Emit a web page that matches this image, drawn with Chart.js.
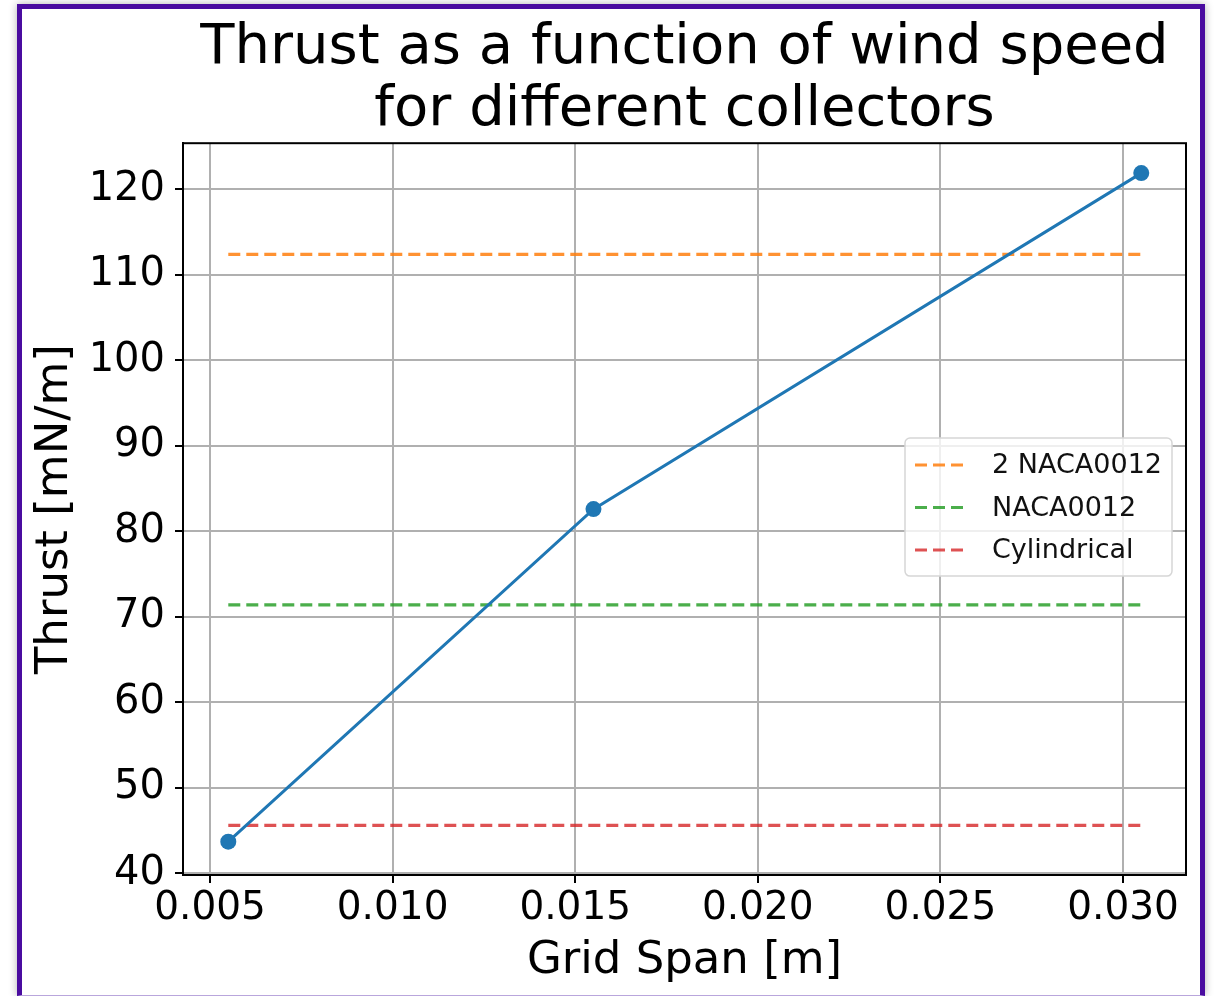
<!DOCTYPE html>
<html>
<head>
<meta charset="utf-8">
<script src="https://cdn.jsdelivr.net/npm/chart.js@4"></script>
<style>
  html, body { margin: 0; padding: 0; background: #fff; }
  #wrap { position: relative; width: 1217px; height: 996px; overflow: hidden; }
  #c { position: absolute; left: 0; top: 0; }
  #frame {
    position: absolute; left: 17px; top: 4px; width: 1188px; height: 992px;
    box-sizing: border-box;
    border: 5px solid #4a0ca0; border-bottom: 1px solid #b9a6dc;
    box-shadow: 0 0 8px rgba(0,0,0,0.3);
    pointer-events: none;
  }
</style>
</head>
<body>
<div id="wrap">
  <canvas id="c" width="1217" height="996"></canvas>
  <div id="frame"></div>
</div>
<script>
// data
var gridSpan = [0.0055, 0.0155, 0.0305]
var thrust = [43.7, 82.6, 121.9]
var collectorLabels = ['2 NACA0012', 'NACA0012', 'Cylindrical']
var collectorThrust = [112.4, 71.4, 45.6]
var collectorColors = ['rgba(255,127,14,0.85)', 'rgba(44,160,44,0.85)', 'rgba(214,39,40,0.8)']
var xTicks = [0.005, 0.010, 0.015, 0.020, 0.025, 0.030]
var yTicks = [40, 50, 60, 70, 80, 90, 100, 110, 120]

Chart.defaults.font.family = 'DejaVu Sans'
Chart.defaults.color = '#000'

var datasets = [{
    label: 'Thrust',
    data: gridSpan.map(function(x, i) { return {x: x, y: thrust[i]} }),
    borderColor: '#1f77b4',
    backgroundColor: '#1f77b4',
    borderWidth: 3,
    pointRadius: 8,
    pointHoverRadius: 8,
    pointBorderWidth: 0,
    showInLegend: false
}]
collectorLabels.forEach(function(lbl, i) {
    datasets.push({
        label: lbl,
        data: [{x: gridSpan[0], y: collectorThrust[i]}, {x: gridSpan[gridSpan.length - 1], y: collectorThrust[i]}],
        borderColor: collectorColors[i],
        borderWidth: 3.2,
        borderDash: [12, 6],
        pointRadius: 0,
        showInLegend: true
    })
})

// top/right spines
var framePlugin = {
    id: 'spines',
    afterDraw: function(chart) {
        var a = chart.chartArea, ctx = chart.ctx
        ctx.save()
        ctx.strokeStyle = '#000'
        ctx.lineWidth = 2
        ctx.strokeRect(a.left, a.top, a.right - a.left, a.bottom - a.top)
        ctx.restore()
    }
}

// legend drawn inside the axes, center right
var innerLegend = {
    id: 'innerLegend',
    afterDraw: function(chart) {
        var a = chart.chartArea, ctx = chart.ctx
        var items = chart.data.datasets.filter(function(d) { return d.showInLegend })
        var w = 267, rowH = 42.5, h = 138
        var x = a.right - 14 - w
        var y = (a.top + a.bottom) / 2 - h / 2 - 2
        ctx.save()
        ctx.beginPath()
        ctx.roundRect(x, y, w, h, 5)
        ctx.fillStyle = 'rgba(255,255,255,0.8)'
        ctx.fill()
        ctx.strokeStyle = '#d6d6d6'
        ctx.lineWidth = 1.5
        ctx.stroke()
        ctx.font = '27px "DejaVu Sans"'
        ctx.textBaseline = 'middle'
        items.forEach(function(d, i) {
            var cy = y + 27 + i * rowH
            ctx.beginPath()
            ctx.setLineDash([12, 6])
            ctx.strokeStyle = d.borderColor
            ctx.lineWidth = 3
            ctx.moveTo(x + 10, cy)
            ctx.lineTo(x + 63, cy)
            ctx.stroke()
            ctx.setLineDash([])
            ctx.fillStyle = '#111'
            ctx.fillText(d.label, x + 87, cy + 1)
        })
        ctx.restore()
    }
}

new Chart(document.getElementById('c'), {
    type: 'line',
    data: { datasets: datasets },
    options: {
        responsive: false,
        animation: false,
        events: [],
        layout: { padding: { left: 0, right: 31, top: 0, bottom: 0 } },
        plugins: {
            legend: { display: false },
            tooltip: { enabled: false },
            title: {
                display: true,
                fullSize: false,
                text: ['Thrust as a function of wind speed', 'for different collectors'],
                color: '#000',
                font: { size: 56, weight: 'normal', lineHeight: 1.1 },
                padding: { top: 18, bottom: 2 }
            }
        },
        scales: {
            x: {
                type: 'linear',
                min: 0.00426,
                max: 0.031725,
                afterBuildTicks: function(s) { s.ticks = xTicks.map(function(v) { return {value: v} }) },
                afterFit: function(s) { s.height = 121 },
                ticks: {
                    font: { size: 39 },
                    color: '#000',
                    padding: 2,
                    maxRotation: 0,
                    callback: function(v) { return v.toFixed(3) }
                },
                grid: { color: '#b0b0b0', lineWidth: 2, tickLength: 8, tickColor: '#000', tickWidth: 2 },
                border: { color: '#000', width: 2 },
                title: { display: true, text: 'Grid Span [m]', font: { size: 45 }, color: '#000', padding: { top: 8, bottom: 8 } }
            },
            y: {
                min: 39.8,
                max: 125.4,
                afterBuildTicks: function(s) { s.ticks = yTicks.map(function(v) { return {value: v} }) },
                afterFit: function(s) { s.width = 183 },
                ticks: {
                    font: { size: 40 },
                    color: '#000',
                    padding: 10,
                    callback: function(v) { return String(v) }
                },
                grid: { color: '#b0b0b0', lineWidth: 2, tickLength: 8, tickColor: '#000', tickWidth: 2 },
                border: { color: '#000', width: 2 },
                title: { display: true, text: 'Thrust [mN/m]', font: { size: 45 }, color: '#000', padding: { top: 28, bottom: 28 } }
            }
        }
    },
    plugins: [framePlugin, innerLegend]
})
</script>
</body>
</html>
